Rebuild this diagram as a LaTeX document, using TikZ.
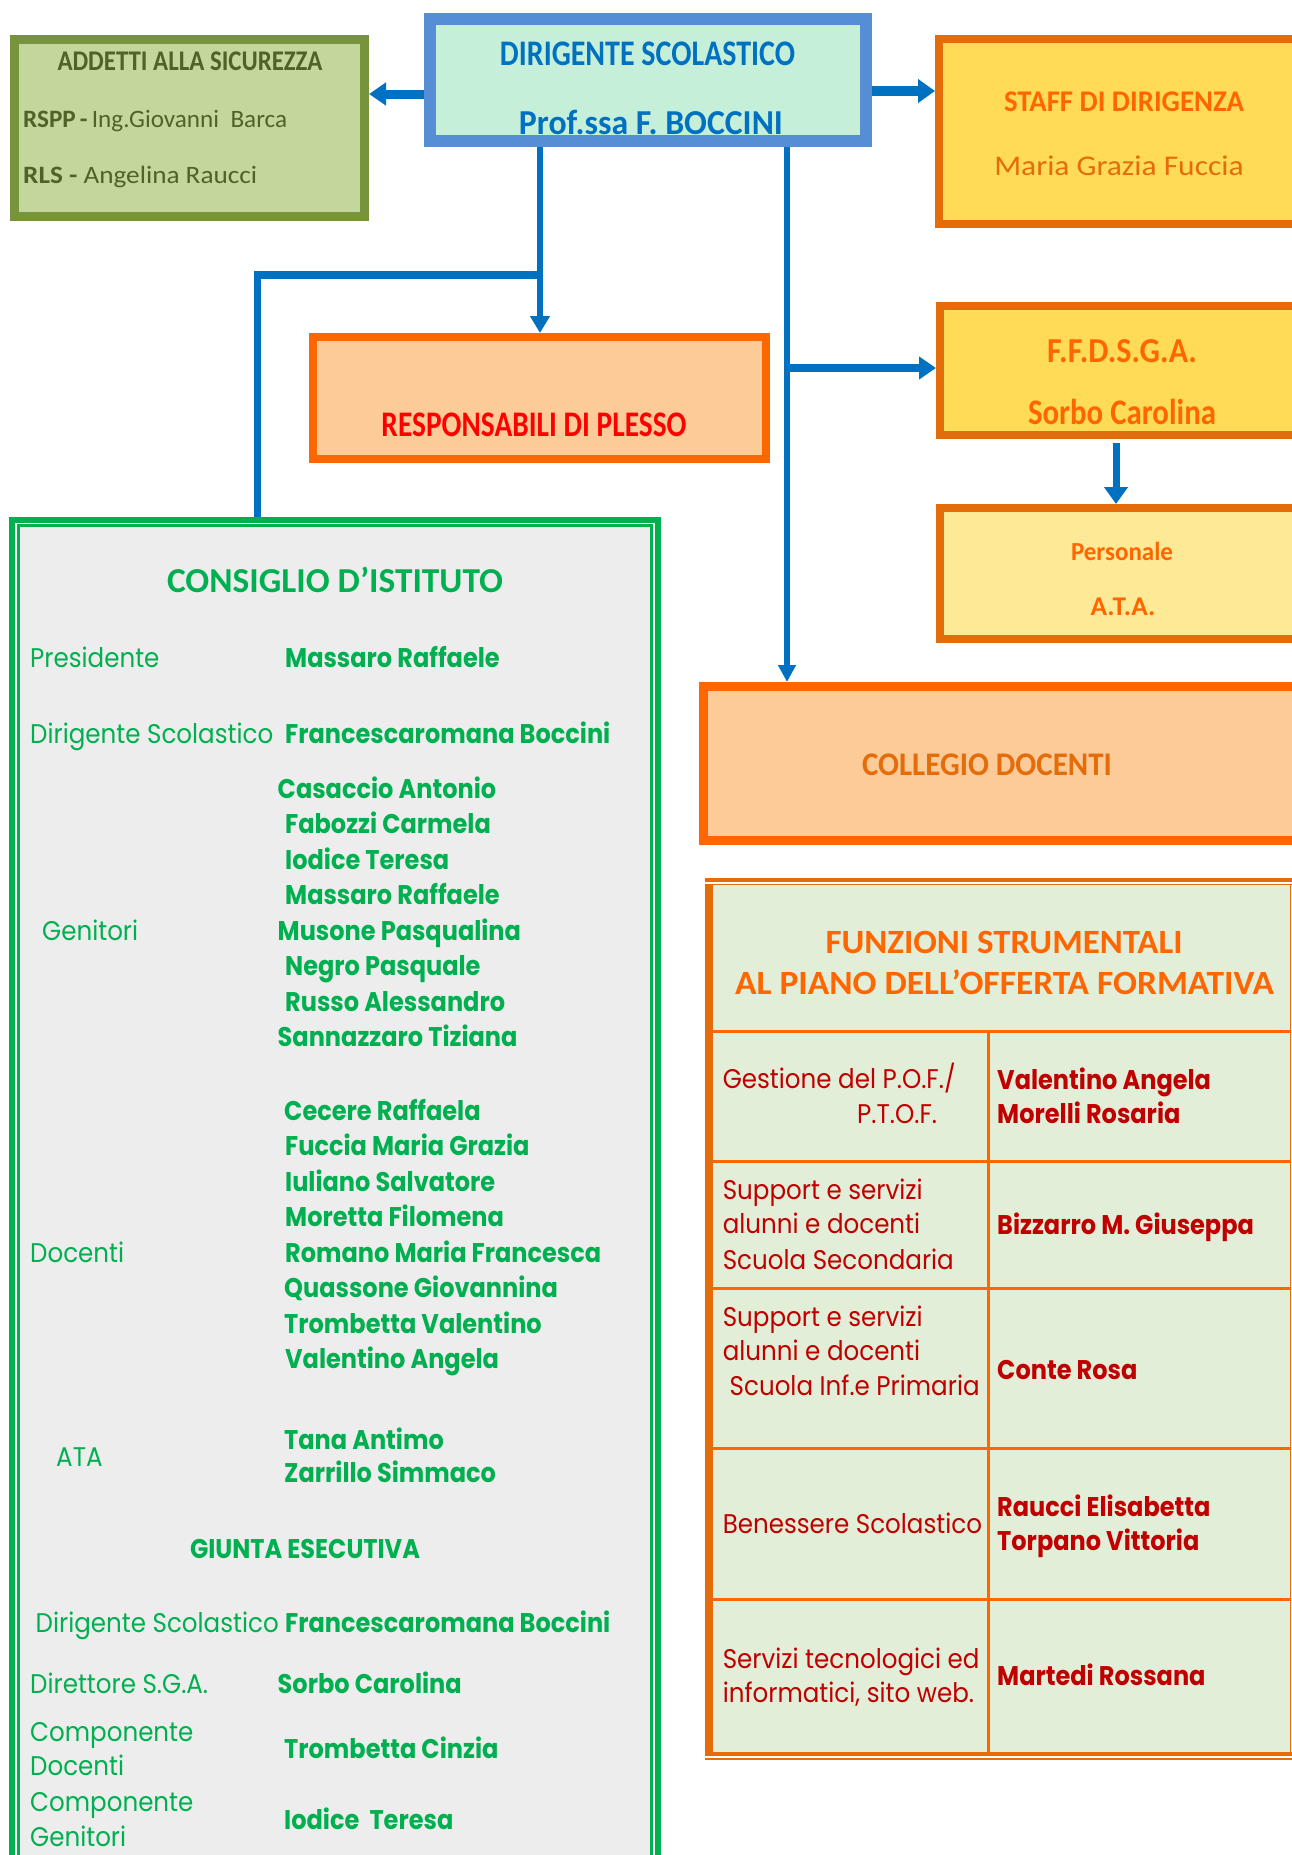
\documentclass[tikz,border=0pt]{standalone}
\usepackage{fontspec}
\usepackage{graphicx}
\usetikzlibrary{arrows.meta,calc}
\setmainfont{Carlito}
\newfontfamily\calfont{Carlito}
\newfontfamily\gothic{Poppins}[FakeStretch=0.91]
\newfontfamily\gothicb{Poppins}[FakeStretch=0.89]
\newcommand\fitw[2]{\resizebox{#1pt}{\height}{#2}}
\definecolor{dsblue}{HTML}{0070C0}
\definecolor{dsborder}{HTML}{558ED5}
\definecolor{dsfill}{HTML}{C6EFDA}
\definecolor{olivefill}{HTML}{C3D69B}
\definecolor{oliveline}{HTML}{77933C}
\definecolor{olivetext}{HTML}{4F6228}
\definecolor{orgline}{HTML}{E46C0A}
\definecolor{orgbright}{HTML}{FF6600}
\definecolor{yelfill}{HTML}{FFDB57}
\definecolor{yellight}{HTML}{FEE996}
\definecolor{peach}{HTML}{FDCB97}
\definecolor{grn}{HTML}{00B050}
\definecolor{grayfill}{HTML}{EDEDED}
\definecolor{fsfill}{HTML}{E2EED8}
\definecolor{darkred}{HTML}{C00000}
\definecolor{redtxt}{HTML}{FF0000}
\begin{document}
\begin{tikzpicture}[x=1pt,y=-1pt,
  box/.style={draw, inner sep=0pt},
  t/.style={inner sep=0pt, anchor=base},
  tl/.style={inner sep=0pt, anchor=base west},
  conn/.style={draw=dsblue},
  arr/.style={draw=dsblue, -{Triangle[width=#1pt,length=17pt]}},
  arr/.default=20,
  cg/.style={tl, font=\gothic\fontsize{27}{27}\selectfont},
  cgb/.style={tl, font=\gothicb\bfseries\fontsize{27}{27}\selectfont},
  calb/.style={t, font=\calfont\bfseries\fontsize{#1}{#1}\selectfont},
  calr/.style={t, font=\calfont\fontsize{#1}{#1}\selectfont}
]
\useasboundingbox (0,0) rectangle (1292,1855);
\clip (0,0) rectangle (1292,1855);

% ---------- boxes ----------
\node[box, draw=oliveline, fill=olivefill, line width=9pt, minimum width=350pt, minimum height=177pt] (addetti) at (189.5,128) {};
\node[box, draw=dsborder, fill=dsfill, line width=12pt, minimum width=436pt, minimum height=122pt] (dir) at (648,80) {};
\node[box, draw=orgline, fill=yelfill, line width=8pt, minimum width=381pt, minimum height=185pt] (staff) at (1129.5,131.5) {};
\node[box, draw=orgbright, fill=peach, line width=8pt, minimum width=453pt, minimum height=122pt] (resp) at (539.5,398) {};
\node[box, draw=orgline, fill=yelfill, line width=8pt, minimum width=380pt, minimum height=129pt] (ffd) at (1130,370.5) {};
\node[box, draw=orgline, fill=yellight, line width=8pt, minimum width=380pt, minimum height=131pt] (pers) at (1130,573.5) {};
\node[box, draw=orgbright, fill=peach, line width=9pt, minimum width=617pt, minimum height=153.5pt] (coll) at (1011.5,763.25) {};
\node[box, draw=grn, fill=white, line width=6pt, minimum width=645.5pt, minimum height=1361pt] (consiglio) at (334.75,1200.2) {};
\draw[grn, line width=2.5pt, fill=grayfill] (18.5,525.7) rectangle (651.5,1875);

% ---------- table ----------
\node[fill=fsfill, inner sep=0pt, minimum width=579pt, minimum height=868pt, anchor=north west] (fs) at (712,884) {};
\draw[orgline, line width=4pt] (705,880) -- (1300,880);
\draw[orgline, line width=1.2pt] (712,884.6) -- (1300,884.6);
\foreach \yy in {1031.7,1161.4,1288.6,1448.4,1599}
  \draw[orgbright, line width=3pt] (712,\yy) -- (1291,\yy);
\draw[orgbright, line width=3pt] (988,1031.7) -- (988,1752);
\draw[orgline, line width=1.5pt] (1290.6,884) -- (1290.6,1752);
\draw[orgline, line width=7.7pt] (708.85,884) -- (708.85,1755.7);
\draw[orgline, line width=3.7pt] (705,1753.85) -- (1300,1753.85);
\draw[orgline, line width=2pt] (705,1758.7) -- (1300,1758.7);

% ---------- connectors ----------
\coordinate (dL) at ($(dir.west)+(0,14)$);
\coordinate (dR) at ($(dir.east)+(0,11)$);
\coordinate (v1) at ($(dir.south)+(-108,0)$);
\coordinate (j1) at ($(v1)+(0,128)$);
\coordinate (t1) at ($(j1)+(-283,0)$);
\coordinate (v2) at ($(dir.south)+(139,0)$);
\coordinate (j2) at ($(v2)+(0,221)$);
\coordinate (f1) at ($(ffd.south)+(-14,4)$);

\draw[arr=22, line width=9pt] (dL) -- (addetti.east |- dL);
\draw[arr=23, line width=10pt] (dR) -- (staff.west |- dR);
\draw[arr=19, line width=6.6pt] (v1) -- (resp.north -| v1);
\draw[conn, line width=8pt] ($(j1)+(3.3,0)$) -- (t1);
\draw[conn, line width=7pt] ($(t1)+(0,-4)$) -- (t1 |- consiglio.north);
\draw[arr=17, line width=6pt] (v2) -- (coll.north -| v2);
\draw[arr=22, line width=8.7pt] (j2) -- (ffd.west |- j2);
\draw[arr=23, line width=7pt] (f1) -- (pers.north -| f1);

% ---------- top texts ----------
\node[calb=28.5, text=olivetext] (ad1) at (190,70.7) {\fitw{265}{ADDETTI ALLA SICUREZZA}};
\node[calr=25, anchor=base west, text=olivetext] (ad2) at (23,127.7) {\fitw{264}{\textbf{RSPP\,-\,}Ing.Giovanni\ \ Barca}};
\node[calr=25, anchor=base west, text=olivetext] (ad3) at (23,183) {\fitw{234}{\textbf{RLS -} Angelina Raucci}};

\node[calb=36, text=dsblue] (d1) at (647.5,65) {\fitw{295}{DIRIGENTE SCOLASTICO}};
\node[calb=35, text=dsblue] (d2) at (651,134) {\fitw{264}{Prof.ssa F. BOCCINI}};

\node[calb=30, text=orgbright] (s1) at (1124,111.7) {\fitw{240}{STAFF DI DIRIGENZA}};
\node[calr=28.5, text=orgline] (s2) at (1119,175) {\fitw{249.5}{Maria Grazia Fuccia}};

\node[calb=36, text=redtxt] (r1) at (534,436) {\fitw{305}{RESPONSABILI DI PLESSO}};

\node[calb=35, text=orgbright] (ff1) at (1122,362) {\fitw{150}{F.F.D.S.G.A.}};
\node[calb=36, text=orgbright] (ff2) at (1122,424) {\fitw{188}{Sorbo Carolina}};

\node[calb=26, text=orgbright] (p1) at (1122,560) {\fitw{102}{Personale}};
\node[calb=27, text=orgbright] (p2) at (1123,615) {\fitw{65}{A.T.A.}};

\node[calb=33, text=orgline] (c1) at (987,775.5) {\fitw{250}{COLLEGIO DOCENTI}};

\node[calb=34, text=orgbright] (h1) at (1004,953.4) {\fitw{357}{FUNZIONI STRUMENTALI}};
\node[calb=34, text=orgbright] (h2) at (1004.6,994) {\fitw{539}{AL PIANO DELL’OFFERTA FORMATIVA}};

% ---------- consiglio texts ----------
\begin{scope}[text=grn]
\node[calb=35] (ct) at (335,592) {\fitw{336}{CONSIGLIO D’ISTITUTO}};
\node[cg] (l1) at (30,667) {Presidente};
\node[cgb] (n1) at (285,667) {Massaro Raffaele};
\node[cg] (l2) at (30,743) {Dirigente Scolastico};
\node[cgb] (n2) at (285,743) {Francescaromana Boccini};
\node[cgb] (g1) at (277.5,798) {Casaccio Antonio};
\node[cgb] (g2) at (285,833.5) {Fabozzi Carmela};
\node[cgb] (g3) at (285,869) {Iodice Teresa};
\node[cgb] (g4) at (285,904.5) {Massaro Raffaele};
\node[cgb] (g5) at (277.5,940) {Musone Pasqualina};
\node[cgb] (g6) at (285,975.5) {Negro Pasquale};
\node[cgb] (g7) at (285,1011) {Russo Alessandro};
\node[cgb] (g8) at (277.5,1046.5) {Sannazzaro Tiziana};
\node[cg] (l3) at (42,940) {Genitori};
\node[cgb] (k1) at (284,1120.6) {Cecere Raffaela};
\node[cgb] (k2) at (285,1155.4) {Fuccia Maria Grazia};
\node[cgb] (k3) at (285,1191.8) {Iuliano Salvatore};
\node[cgb] (k4) at (285,1226.5) {Moretta Filomena};
\node[cgb] (k5) at (285,1262.5) {Romano Maria Francesca};
\node[cgb] (k6) at (284,1297.3) {Quassone Giovannina};
\node[cgb] (k7) at (284,1333.7) {Trombetta Valentino};
\node[cgb] (k8) at (285,1368.5) {Valentino Angela};
\node[cg] (l4) at (30,1262.5) {Docenti};
\node[cgb] (a1) at (284,1449) {Tana Antimo};
\node[cgb] (a2) at (284,1482.8) {Zarrillo Simmaco};
\node[cg] (l5) at (56,1466) {ATA};
\node[t, font=\gothicb\bfseries\fontsize{27}{27}\selectfont] (gt) at (305,1558) {GIUNTA ESECUTIVA};
\node[cg] (l6) at (35.5,1632.5) {Dirigente Scolastico};
\node[cgb] (m1) at (285,1632.5) {Francescaromana Boccini};
\node[cg] (l7) at (30,1693.3) {Direttore S.G.A.};
\node[cgb] (m2) at (277.5,1693.3) {Sorbo Carolina};
\node[cg] (l8) at (30,1741.7) {Componente};
\node[cg] (l9) at (30,1775.4) {Docenti};
\node[cgb] (m3) at (284,1758.8) {Trombetta Cinzia};
\node[cg] (l10) at (30,1811.8) {Componente};
\node[cg] (l11) at (30,1846.6) {Genitori};
\node[cgb] (m4) at (284,1829) {Iodice\ \ Teresa};
\end{scope}

% ---------- table texts ----------
\begin{scope}[text=darkred]
\node[cg] (q1) at (722.6,1088) {Gestione del P.O.F./};
\node[cg] (q2) at (857,1123.4) {P.T.O.F.};
\node[cgb] (w1) at (997,1089) {Valentino Angela};
\node[cgb] (w2) at (997,1123.4) {Morelli Rosaria};
\node[cg] (q3) at (722.6,1199.7) {Support e servizi};
\node[cg] (q4) at (722.6,1233.3) {alunni e docenti};
\node[cg] (q5) at (722.6,1269) {Scuola Secondaria};
\node[cgb] (w3) at (997,1234.5) {Bizzarro M. Giuseppa};
\node[cg] (q6) at (722.6,1326) {Support e servizi};
\node[cg] (q7) at (722.6,1360.7) {alunni e docenti};
\node[cg] (q8) at (729.5,1395) {Scuola Inf.e Primaria};
\node[cgb] (w4) at (997,1379) {Conte Rosa};
\node[cg] (q9) at (722.6,1533.8) {Benessere Scolastico};
\node[cgb] (w5) at (997,1516.3) {Raucci Elisabetta};
\node[cgb] (w6) at (997,1550.6) {Torpano Vittoria};
\node[cg] (q10) at (722.6,1668.5) {Servizi tecnologici ed};
\node[cg] (q11) at (722.6,1702.8) {informatici, sito web.};
\node[cgb] (w7) at (997,1685) {Martedi Rossana};
\end{scope}
\end{tikzpicture}
\end{document}
